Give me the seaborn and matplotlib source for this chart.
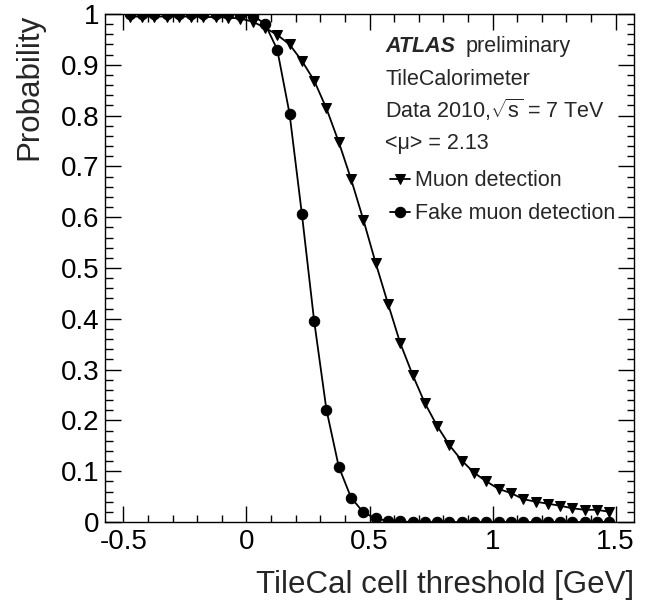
import pandas as pd
import seaborn as sns
import matplotlib.pyplot as plt
from matplotlib.ticker import MultipleLocator, FuncFormatter

# Bin centres of the cell threshold scan [GeV]
thresholds = [-0.475, -0.425, -0.375, -0.325, -0.275, -0.225, -0.175, -0.125,
              -0.075, -0.025, 0.025, 0.075, 0.125, 0.175, 0.225, 0.275,
              0.325, 0.375, 0.425, 0.475, 0.525, 0.575, 0.625, 0.675,
              0.725, 0.775, 0.825, 0.875, 0.925, 0.975, 1.025, 1.075,
              1.125, 1.175, 1.225, 1.275, 1.325, 1.375, 1.425, 1.475]

# Muon detection probability (triangles)
muon = [0.995, 0.995, 0.995, 0.995, 0.995, 0.995, 0.994, 0.994,
        0.993, 0.991, 0.985, 0.973, 0.959, 0.940, 0.908, 0.869,
        0.814, 0.748, 0.675, 0.595, 0.510, 0.430, 0.352, 0.290,
        0.234, 0.189, 0.151, 0.121, 0.097, 0.080, 0.065, 0.057,
        0.045, 0.040, 0.036, 0.032, 0.027, 0.024, 0.024, 0.020]

# Fake muon detection probability (circles)
fake = [1.000, 1.000, 1.000, 1.000, 1.000, 1.000, 1.000, 1.000,
        1.000, 0.999, 0.997, 0.981, 0.930, 0.804, 0.607, 0.396,
        0.221, 0.109, 0.048, 0.019, 0.007, 0.002, 0.001, 0.000,
        0.000, 0.000, 0.000, 0.000, 0.000, 0.000, 0.000, 0.000,
        0.000, 0.000, 0.000, 0.000, 0.000, 0.000, 0.000, 0.000]

df = pd.DataFrame({"threshold": thresholds, "muon": muon, "fake": fake})

sns.set_style("ticks")
plt.rcParams["font.family"] = ["Liberation Sans", "DejaVu Sans"]
plt.rcParams["mathtext.fontset"] = "custom"
plt.rcParams["mathtext.rm"] = "Liberation Sans"

fig = plt.figure(figsize=(6.57, 6.12), dpi=100)
ax = fig.add_axes([105 / 657, 1 - 522 / 612, 529 / 657, 508 / 612])

sns.lineplot(data=df, x="threshold", y="muon", ax=ax, color="black",
             marker="v", markersize=7.5, markeredgecolor="black",
             linewidth=1.3, label="Muon detection")
sns.lineplot(data=df, x="threshold", y="fake", ax=ax, color="black",
             marker="o", markersize=7.5, markeredgecolor="black",
             linewidth=1.3, label="Fake muon detection")

ax.set_xlim(-0.575, 1.575)
ax.set_ylim(0, 1)

ax.xaxis.set_major_locator(MultipleLocator(0.5))
ax.xaxis.set_minor_locator(MultipleLocator(0.1))
ax.yaxis.set_major_locator(MultipleLocator(0.1))
ax.yaxis.set_minor_locator(MultipleLocator(0.02))
fmt = FuncFormatter(lambda v, _: f"{v:g}")
ax.xaxis.set_major_formatter(fmt)
ax.yaxis.set_major_formatter(fmt)

ax.tick_params(which="both", direction="in", top=True, right=True,
               width=1.0, colors="black", labelsize=20)
ax.tick_params(which="major", length=11.5)
ax.tick_params(which="minor", length=5.4)
ax.tick_params(axis="x", pad=5)
ax.tick_params(axis="y", pad=4)
for s in ax.spines.values():
    s.set_linewidth(1.0)
    s.set_color("black")

ax.set_xlabel("TileCal cell threshold [GeV]", fontsize=22.5, loc="right",
              labelpad=11)
ax.set_ylabel("Probability", fontsize=22.5, loc="top", labelpad=12)

tx = (385 - 105) / 529
ax.text(tx, 0.937, "ATLAS", transform=ax.transAxes, fontsize=15.5,
        fontweight="bold", fontstyle="italic", va="center")
ax.text((466 - 105) / 529, 0.937, "preliminary", transform=ax.transAxes,
        fontsize=15.5, va="center")
ax.text(tx, 0.872, "TileCalorimeter", transform=ax.transAxes,
        fontsize=15.5, va="center")
ax.text(tx, 0.811, r"Data 2010,$\sqrt{\mathrm{s}}$ = 7 TeV",
        transform=ax.transAxes, fontsize=15.5, va="center")
ax.text(tx, 0.746, "<\u03bc> = 2.13", transform=ax.transAxes,
        fontsize=15.5, va="center")

ax.legend(loc="upper left", bbox_to_anchor=((390 - 105) / 529, 0.692),
          frameon=False, fontsize=15.5, handlelength=0.95,
          handletextpad=0.2, labelspacing=0.55, borderpad=0,
          borderaxespad=0)

fig.savefig("out.png", dpi=100)
